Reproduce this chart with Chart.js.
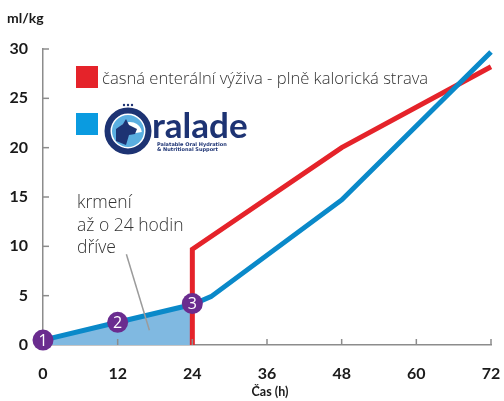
<!DOCTYPE html>
<html>
<head>
<meta charset="utf-8">
<script src="https://cdn.jsdelivr.net/npm/chart.js@4/dist/chart.umd.min.js"></script>
<style>
  html, body { margin: 0; padding: 0; background: #fff; }
  #wrap { position: relative; width: 504px; height: 401px; }
</style>
</head>
<body>
<div id="wrap"><canvas id="chart" width="504" height="401"></canvas></div>
<script>
// hodnoty
const xTicks = [0, 12, 24, 36, 48, 60, 72];
const yTicks = [0, 5, 10, 15, 20, 25, 30];

const blueX = [0, 12, 24, 27, 48, 72];
const blueY = [0.5, 2.3, 4.1, 4.9, 14.7, 29.7];

const redX = [24, 24, 48, 72];
const redY = [0, 9.7, 20, 28.2];

const markerX = [0, 12, 24];
const markerY = [0.5, 2.3, 4.2];
const markerLabels = ['1', '2', '3'];

const noteX = [13.4, 17.1];
const noteY = [9.2, 1.5];
const noteLines = ['krmení', 'až o 24 hodin', 'dříve'];

const redLabel = 'časná enterální výživa - plně kalorická strava';
const yTitle = 'ml/kg';
const xTitle = 'Čas (h)';

const RED = '#e5232a';
const BLUE = '#0a89c9';
const FILL = '#80b9e1';
const PURPLE = '#6a2c8f';
const AXIS = '#8c8c8c';

function pts(xs, ys) {
    return xs.map(function(x, i) { return { x: x, y: ys[i] }; });
}

// plocha pod modrou křivkou do 24 h
const fillPts = pts(blueX, blueY).filter(function(p) { return p.x <= 24; });

const decor = {
    id: 'decor',
    afterDraw: function(chart) {
        const ctx = chart.ctx;
        const xs = chart.scales.x, ys = chart.scales.y;
        ctx.save();

        // ticks pointing inside
        ctx.strokeStyle = AXIS;
        ctx.lineWidth = 1.5;
        xTicks.forEach(function(v) {
            if (v === 0) return;
            const px = xs.getPixelForValue(v);
            ctx.beginPath(); ctx.moveTo(px, ys.bottom); ctx.lineTo(px, ys.bottom - 6); ctx.stroke();
        });
        yTicks.forEach(function(v) {
            if (v === 0) return;
            const py = ys.getPixelForValue(v);
            ctx.beginPath(); ctx.moveTo(xs.left, py); ctx.lineTo(xs.left + 6, py); ctx.stroke();
        });

        // marker numbers
        const meta = chart.getDatasetMeta(4);
        ctx.fillStyle = '#fff';
        ctx.font = '16px "Open Sans", sans-serif';
        ctx.textAlign = 'center';
        ctx.textBaseline = 'middle';
        meta.data.forEach(function(el, i) {
            ctx.fillText(markerLabels[i], el.x, el.y + 1);
        });

        // axis titles
        ctx.fillStyle = '#1a1a1a';
        ctx.font = 'bold 14px Lato, sans-serif';
        ctx.textAlign = 'left';
        ctx.fillText(yTitle, 7, 18);
        ctx.font = 'bold 12.5px Lato, sans-serif';
        ctx.textAlign = 'center';
        ctx.fillText(xTitle, 270, 392);

        ctx.textBaseline = 'alphabetic';
        ctx.textAlign = 'left';

        // note text
        ctx.fillStyle = '#333';
        ctx.font = '300 17.5px "Open Sans", sans-serif';
        noteLines.forEach(function(t, i) {
            ctx.fillText(t, 77, 208 + i * 22.5);
        });

        // legend: red
        ctx.fillStyle = RED;
        ctx.fillRect(76, 66, 22, 22);
        ctx.fillStyle = '#333';
        ctx.font = '300 16.6px "Open Sans", sans-serif';
        ctx.fillText(redLabel, 102, 84);

        // legend: blue + Oralade logo
        ctx.fillStyle = '#0a9be0';
        ctx.fillRect(76, 113, 22, 22);

        const cx = 128, cy = 131;
        ctx.fillStyle = '#5aaee0';
        ctx.beginPath(); ctx.arc(cx, cy, 16, 0, Math.PI * 2); ctx.fill();
        ctx.fillStyle = '#fff';
        ctx.beginPath(); ctx.arc(cx + 2, cy + 3, 12, Math.PI * 1.1, Math.PI * 1.95); ctx.lineTo(cx + 2, cy + 3); ctx.fill();
        ctx.fillStyle = '#1d3373';
        ctx.beginPath();
        ctx.moveTo(cx - 12, cy + 10);
        ctx.lineTo(cx - 12, cy - 2);
        ctx.lineTo(cx - 5, cy - 7);
        ctx.lineTo(cx - 2, cy - 12);
        ctx.lineTo(cx + 1, cy - 6);
        ctx.lineTo(cx + 9, cy - 2);
        ctx.lineTo(cx + 7, cy + 3);
        ctx.lineTo(cx + 1, cy + 4);
        ctx.lineTo(cx - 2, cy + 14);
        ctx.closePath();
        ctx.fill();
        ctx.strokeStyle = '#1d3373';
        ctx.lineWidth = 6;
        ctx.beginPath(); ctx.arc(cx, cy, 20.5, 0, Math.PI * 2); ctx.stroke();
        ctx.fillStyle = '#1d3373';
        [-4, 0, 4].forEach(function(d) {
            ctx.beginPath(); ctx.arc(cx + d, cy - 26, 1.2, 0, Math.PI * 2); ctx.fill();
        });

        ctx.fillStyle = '#1d3373';
        ctx.font = 'bold 35px Lato, sans-serif';
        ctx.fillText('ralade', 152, 138);
        ctx.font = 'bold 5px "DejaVu Sans", sans-serif';
        ctx.fillText('Palatable Oral Hydration', 157, 146);
        ctx.fillText('& Nutritional Support', 157, 151);

        ctx.restore();
    }
};

new Chart(document.getElementById('chart'), {
    type: 'line',
    data: {
        datasets: [
            {
                label: 'fill',
                data: fillPts,
                borderWidth: 0,
                pointRadius: 0,
                backgroundColor: FILL,
                fill: 'origin',
                order: 5
            },
            {
                label: redLabel,
                data: pts(redX, redY),
                borderColor: RED,
                borderWidth: 5,
                pointRadius: 0,
                clip: false,
                order: 4
            },
            {
                label: 'Oralade',
                data: pts(blueX, blueY),
                borderColor: BLUE,
                borderWidth: 5,
                pointRadius: 0,
                clip: false,
                order: 3
            },
            {
                label: 'note',
                data: pts(noteX, noteY),
                borderColor: '#9b9b9b',
                borderWidth: 1.5,
                pointRadius: 0,
                order: 2
            },
            {
                label: 'markers',
                data: pts(markerX, markerY),
                showLine: false,
                pointRadius: 10.5,
                pointHoverRadius: 10.5,
                pointBackgroundColor: PURPLE,
                pointBorderWidth: 0,
                clip: false,
                order: 1
            }
        ]
    },
    options: {
        responsive: false,
        animation: false,
        events: [],
        layout: { padding: { top: 49, right: 13, left: 0, bottom: 0 } },
        plugins: { legend: { display: false }, tooltip: { enabled: false } },
        elements: { line: { tension: 0 } },
        scales: {
            x: {
                type: 'linear',
                min: 0,
                max: 72,
                afterBuildTicks: function(s) { s.ticks = xTicks.map(function(v) { return { value: v }; }); },
                afterFit: function(s) { s.height = 56; s.paddingLeft = 0; s.paddingRight = 0; },
                grid: { display: false, drawTicks: false },
                border: { display: true, color: AXIS, width: 1.5 },
                ticks: { color: '#1a1a1a', padding: 19, font: { family: 'Lato', weight: 'bold', size: 16 } }
            },
            y: {
                min: 0,
                max: 30,
                afterBuildTicks: function(s) { s.ticks = yTicks.map(function(v) { return { value: v }; }); },
                afterFit: function(s) { s.width = 43; s.paddingTop = 0; s.paddingBottom = 0; },
                grid: { display: false, drawTicks: false },
                border: { display: true, color: AXIS, width: 1.5 },
                ticks: { color: '#1a1a1a', padding: 15, font: { family: 'Lato', weight: 'bold', size: 16 } }
            }
        }
    },
    plugins: [decor]
});
</script>
</body>
</html>
